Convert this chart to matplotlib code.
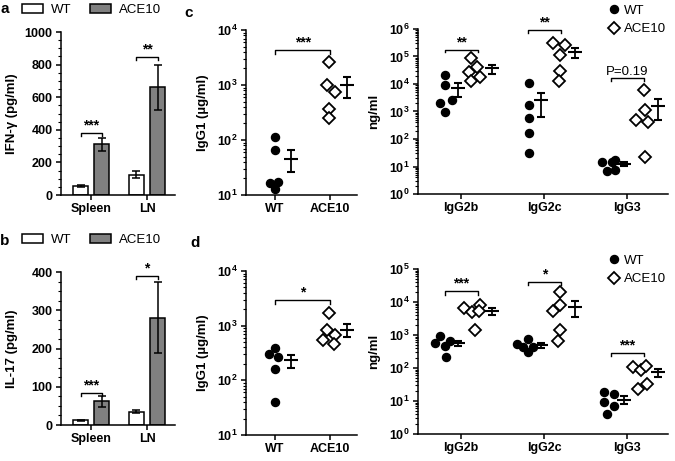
import numpy as np
import matplotlib
matplotlib.use('Agg')
import matplotlib.pyplot as plt
from matplotlib.patches import Patch
from matplotlib.lines import Line2D
from matplotlib.ticker import MultipleLocator, LogLocator, FixedLocator, FixedFormatter, NullFormatter

plt.rcParams['font.family'] = ['Liberation Sans', 'DejaVu Sans']
plt.rcParams['font.weight'] = 'bold'
plt.rcParams['mathtext.fontset'] = 'custom'
plt.rcParams['mathtext.rm'] = 'Liberation Sans:bold'
plt.rcParams['mathtext.bf'] = 'Liberation Sans:bold'
plt.rcParams['mathtext.default'] = 'rm'
plt.rcParams['axes.linewidth'] = 1.1
plt.rcParams['xtick.major.width'] = 1.1
plt.rcParams['ytick.major.width'] = 1.1
plt.rcParams['ytick.minor.width'] = 0.8

# ---- data -------------------------------------------------------------
bar_groups = ['Spleen', 'LN']
ifn_wt = [55, 125]
ifn_wt_err = [6, 20]
ifn_ace = [310, 660]
ifn_ace_err = [37, 138]
il17_wt = [12, 35]
il17_wt_err = [2, 4]
il17_ace = [62, 280]
il17_ace_err = [15, 93]

igg1_groups = ['WT', 'ACE10']
igg1_c_wt = [115, 66, 16.7, 17.5, 12.7]
igg1_c_ace = [2620, 1000, 757, 361, 248]
igg1_d_wt = [385, 300, 270, 159, 41]
igg1_d_ace = [1730, 845, 555, 665, 455]

sub_groups = ['IgG2b', 'IgG2c', 'IgG3']
sub_c_wt = [[20600, 8900, 2100, 2600, 950],
            [10900, 1750, 580, 165, 32],
            [14.5, 14.5, 17.5, 6.6, 7.6]]
sub_c_ace = [[87000, 40000, 26600, 18000, 12500],
             [320000, 266000, 115000, 30500, 12500],
             [6100, 1090, 480, 410, 23]]
sub_d_wt = [[573, 910, 673, 455, 216],
            [535, 760, 435, 297, 435],
            [18.7, 16, 9.1, 6.9, 4.0]]
sub_d_ace = [[6600, 4900, 8300, 5300, 1450],
             [19600, 8300, 5300, 1380, 670],
             [105, 89, 118, 23.7, 33.6]]

# significance: (group index, label, bracket height)
sig_a = [(0, '***', 380), (1, '**', 846)]
sig_b = [(0, '***', 83), (1, '*', 389)]
sig_c1 = ('***', 4300)
sig_d1 = ('*', 2900)
sig_c2 = [(0, '**', 175000), (1, '**', 900000), (2, 'P=0.19', 16500)]
sig_d2 = [(0, '***', 21000), (1, '*', 40000), (2, '***', 285)]

# horizontal jitter of the dots (layout only)
jit_c1_wt = [-0.01, -0.01, -0.1, 0.06, 0]
jit_c1_ace = [-0.02, -0.06, 0.09, -0.02, -0.02]
jit_d1_wt = [0, -0.12, 0.06, 0, 0]
jit_d1_ace = [-0.02, -0.06, -0.12, 0.09, 0.08]
jit_c2_wt = [[-0.2, -0.2, -0.25, -0.11, -0.2], [-0.18] * 5, [-0.3, -0.19, -0.15, -0.24, -0.15]]
jit_c2_ace = [[0.12, 0.19, 0.09, 0.23, 0.12], [0.11, 0.25, 0.19, 0.19, 0.18], [0.2, 0.21, 0.1, 0.25, 0.21]]
jit_d2_wt = [[-0.32, -0.25, -0.14, -0.19, -0.18], [-0.33, -0.19, -0.25, -0.19, -0.13], [-0.28, -0.16, -0.28, -0.16, -0.24]]
jit_d2_ace = [[0.03, 0.13, 0.23, 0.21, 0.17], [0.19, 0.19, 0.10, 0.19, 0.16], [0.07, 0.17, 0.23, 0.13, 0.24]]

W, H = 675, 461
fig = plt.figure(figsize=(W / 100, H / 100), dpi=100)


def px_axes(l, t, r, b):
    return fig.add_axes([l / W, 1 - b / H, (r - l) / W, (b - t) / H])


def bracket(ax, x0, x1, y, label, drop, log=False, size=10, weight='bold'):
    yd = y * drop if log else y - drop
    ax.plot([x0, x0, x1, x1], [yd, y, y, yd], color='black', lw=1.0, clip_on=False)
    ax.text((x0 + x1) / 2, y * 1.04 if log else y + drop * 0.2, label, ha='center', va='bottom',
            fontsize=size, fontweight=weight)


def style(ax):
    for s in ['top', 'right']:
        ax.spines[s].set_visible(False)
    ax.tick_params(axis='both', labelsize=9, length=3.5, pad=2.5)
    ax.tick_params(axis='y', which='minor', length=2)


def bar_panel(ax, wt, wt_err, ace, ace_err, ymax, major, minor, ylabel, sigs):
    x = np.arange(len(bar_groups))
    off, wd = 0.19, 0.27
    ek = dict(elinewidth=1.1, capthick=1.1, ecolor='black')
    ax.bar(x - off, wt, wd, yerr=wt_err, color='white', edgecolor='black', linewidth=1.1,
           capsize=3, error_kw=ek)
    ax.bar(x + off, ace, wd, yerr=ace_err, color='#808080', edgecolor='black', linewidth=1.1,
           capsize=3, error_kw=ek)
    ax.set_xlim(-0.54, 1.5)
    ax.set_ylim(0, ymax)
    ax.set_xticks(x)
    ax.set_xticklabels(bar_groups)
    ax.yaxis.set_major_locator(MultipleLocator(major))
    ax.yaxis.set_minor_locator(MultipleLocator(minor))
    ax.set_ylabel(ylabel, fontsize=9.5, fontweight='bold')
    ax.yaxis.set_label_coords(-0.375, 0.5)
    style(ax)
    for g, lab, y in sigs:
        bracket(ax, g - off, g + off, y, lab, ymax * 0.02)


def log_axis(ax, lo, hi):
    ax.set_yscale('log')
    ax.set_ylim(10 ** lo, 10 ** hi)
    exps = list(range(lo, hi + 1))
    ax.yaxis.set_major_locator(FixedLocator([10.0 ** e for e in exps]))
    ax.yaxis.set_major_formatter(FixedFormatter(['$10^{%d}$' % e for e in exps]))
    ax.yaxis.set_minor_locator(LogLocator(base=10, subs=np.arange(2, 10), numticks=20))
    ax.yaxis.set_minor_formatter(NullFormatter())


def dots(ax, xs, wt, ace):
    ax.plot(xs[0], wt, 'o', color='black', ms=5.8, ls='none', clip_on=False)
    ax.plot(xs[1], ace, 'D', mfc='white', mec='black', mew=1.3, ms=6, ls='none', clip_on=False)


def mean_sem(ax, x, vals):
    v = np.array(vals, dtype=float)
    m = v.mean()
    s = v.std(ddof=1) / np.sqrt(len(v))
    ax.errorbar([x], [m], yerr=[s], fmt='_', color='black', ms=10, mew=1.5,
                elinewidth=1.3, capsize=3, capthick=1.3)


def igg1_panel(ax, wt, ace, jw, ja, sig, ylabel):
    log_axis(ax, 1, 4)
    dots(ax, [np.array(jw), 1 + np.array(ja)], wt, ace)
    mean_sem(ax, 0.28, wt)
    mean_sem(ax, 1.3, ace)
    ax.set_xlim(-0.53, 1.49)
    ax.set_xticks([0, 1])
    ax.set_xticklabels(igg1_groups)
    ax.set_ylabel(ylabel, fontsize=9.5, fontweight='bold')
    ax.yaxis.set_label_coords(-0.33, 0.5)
    style(ax)
    bracket(ax, 0, 1, sig[1], sig[0], 0.85, log=True)


def sub_panel(ax, wt, ace, jw, ja, sigs, lo, hi):
    log_axis(ax, lo, hi)
    for i in range(len(sub_groups)):
        dots(ax, [i + np.array(jw[i]), i + np.array(ja[i])], wt[i], ace[i])
        mean_sem(ax, i - 0.04, wt[i])
        mean_sem(ax, i + 0.37, ace[i])
    ax.set_xlim(-0.52, 2.49)
    ax.set_xticks(range(len(sub_groups)))
    ax.set_xticklabels(sub_groups)
    ax.set_ylabel('ng/ml', fontsize=9.5, fontweight='bold')
    ax.yaxis.set_label_coords(-0.15, 0.5)
    style(ax)
    for g, lab, y in sigs:
        if lab.startswith('P'):
            bracket(ax, g - 0.2, g + 0.2, y, lab, 0.8, log=True, size=9.5, weight='normal')
        else:
            bracket(ax, g - 0.2, g + 0.2, y, lab, 0.8, log=True)


# ---- panels -----------------------------------------------------------
ax_a = px_axes(61, 32, 175, 195)
bar_panel(ax_a, ifn_wt, ifn_wt_err, ifn_ace, ifn_ace_err, 1000, 200, 50, 'IFN-γ (pg/ml)', sig_a)
ax_b = px_axes(61, 272, 175, 425)
bar_panel(ax_b, il17_wt, il17_wt_err, il17_ace, il17_ace_err, 400, 100, 25, 'IL-17 (pg/ml)', sig_b)

ax_c1 = px_axes(246, 30, 357, 195)
igg1_panel(ax_c1, igg1_c_wt, igg1_c_ace, jit_c1_wt, jit_c1_ace, sig_c1, 'IgG1 (µg/ml)')
ax_d1 = px_axes(246, 271, 357, 435)
igg1_panel(ax_d1, igg1_d_wt, igg1_d_ace, jit_d1_wt, jit_d1_ace, sig_d1, 'IgG1 (µg/ml)')

ax_c2 = px_axes(418, 29, 668, 194)
sub_panel(ax_c2, sub_c_wt, sub_c_ace, jit_c2_wt, jit_c2_ace, sig_c2, 0, 6)
ax_d2 = px_axes(418, 269, 668, 434)
sub_panel(ax_d2, sub_d_wt, sub_d_ace, jit_d2_wt, jit_d2_ace, sig_d2, 0, 5)

# ---- legends and letters ------------------------------------------------
bar_handles = [Patch(facecolor='white', edgecolor='black', lw=1.1),
               Patch(facecolor='#808080', edgecolor='black', lw=1.1)]
dot_handles = [Line2D([], [], marker='o', color='black', ms=5.8, ls='none'),
               Line2D([], [], marker='D', mfc='white', mec='black', mew=1.3, ms=6, ls='none')]
leg_prop = {'size': 9.5, 'weight': 'normal'}
for ty in [10, 240]:
    fig.legend(bar_handles, ['WT', 'ACE10'], loc='center left', bbox_to_anchor=(22 / W, 1 - ty / H),
               ncol=2, frameon=False, prop=leg_prop, handlelength=1.6, handleheight=0.7,
               handletextpad=0.6, columnspacing=1.4, borderaxespad=0, borderpad=0)
for ty in [20, 270]:
    fig.legend(dot_handles, ['WT', 'ACE10'], loc='center left', bbox_to_anchor=(609 / W, 1 - ty / H),
               frameon=False, prop=leg_prop, handlelength=0.8, handletextpad=0.3,
               labelspacing=0.45, borderaxespad=0, borderpad=0)

for lab, x, y in [('a', 5, 9), ('b', 5, 241), ('c', 189, 13), ('d', 195, 243)]:
    fig.text(x / W, 1 - y / H, lab, fontsize=11, fontweight='bold', va='center', ha='center')

fig.savefig('out.png', dpi=100)
